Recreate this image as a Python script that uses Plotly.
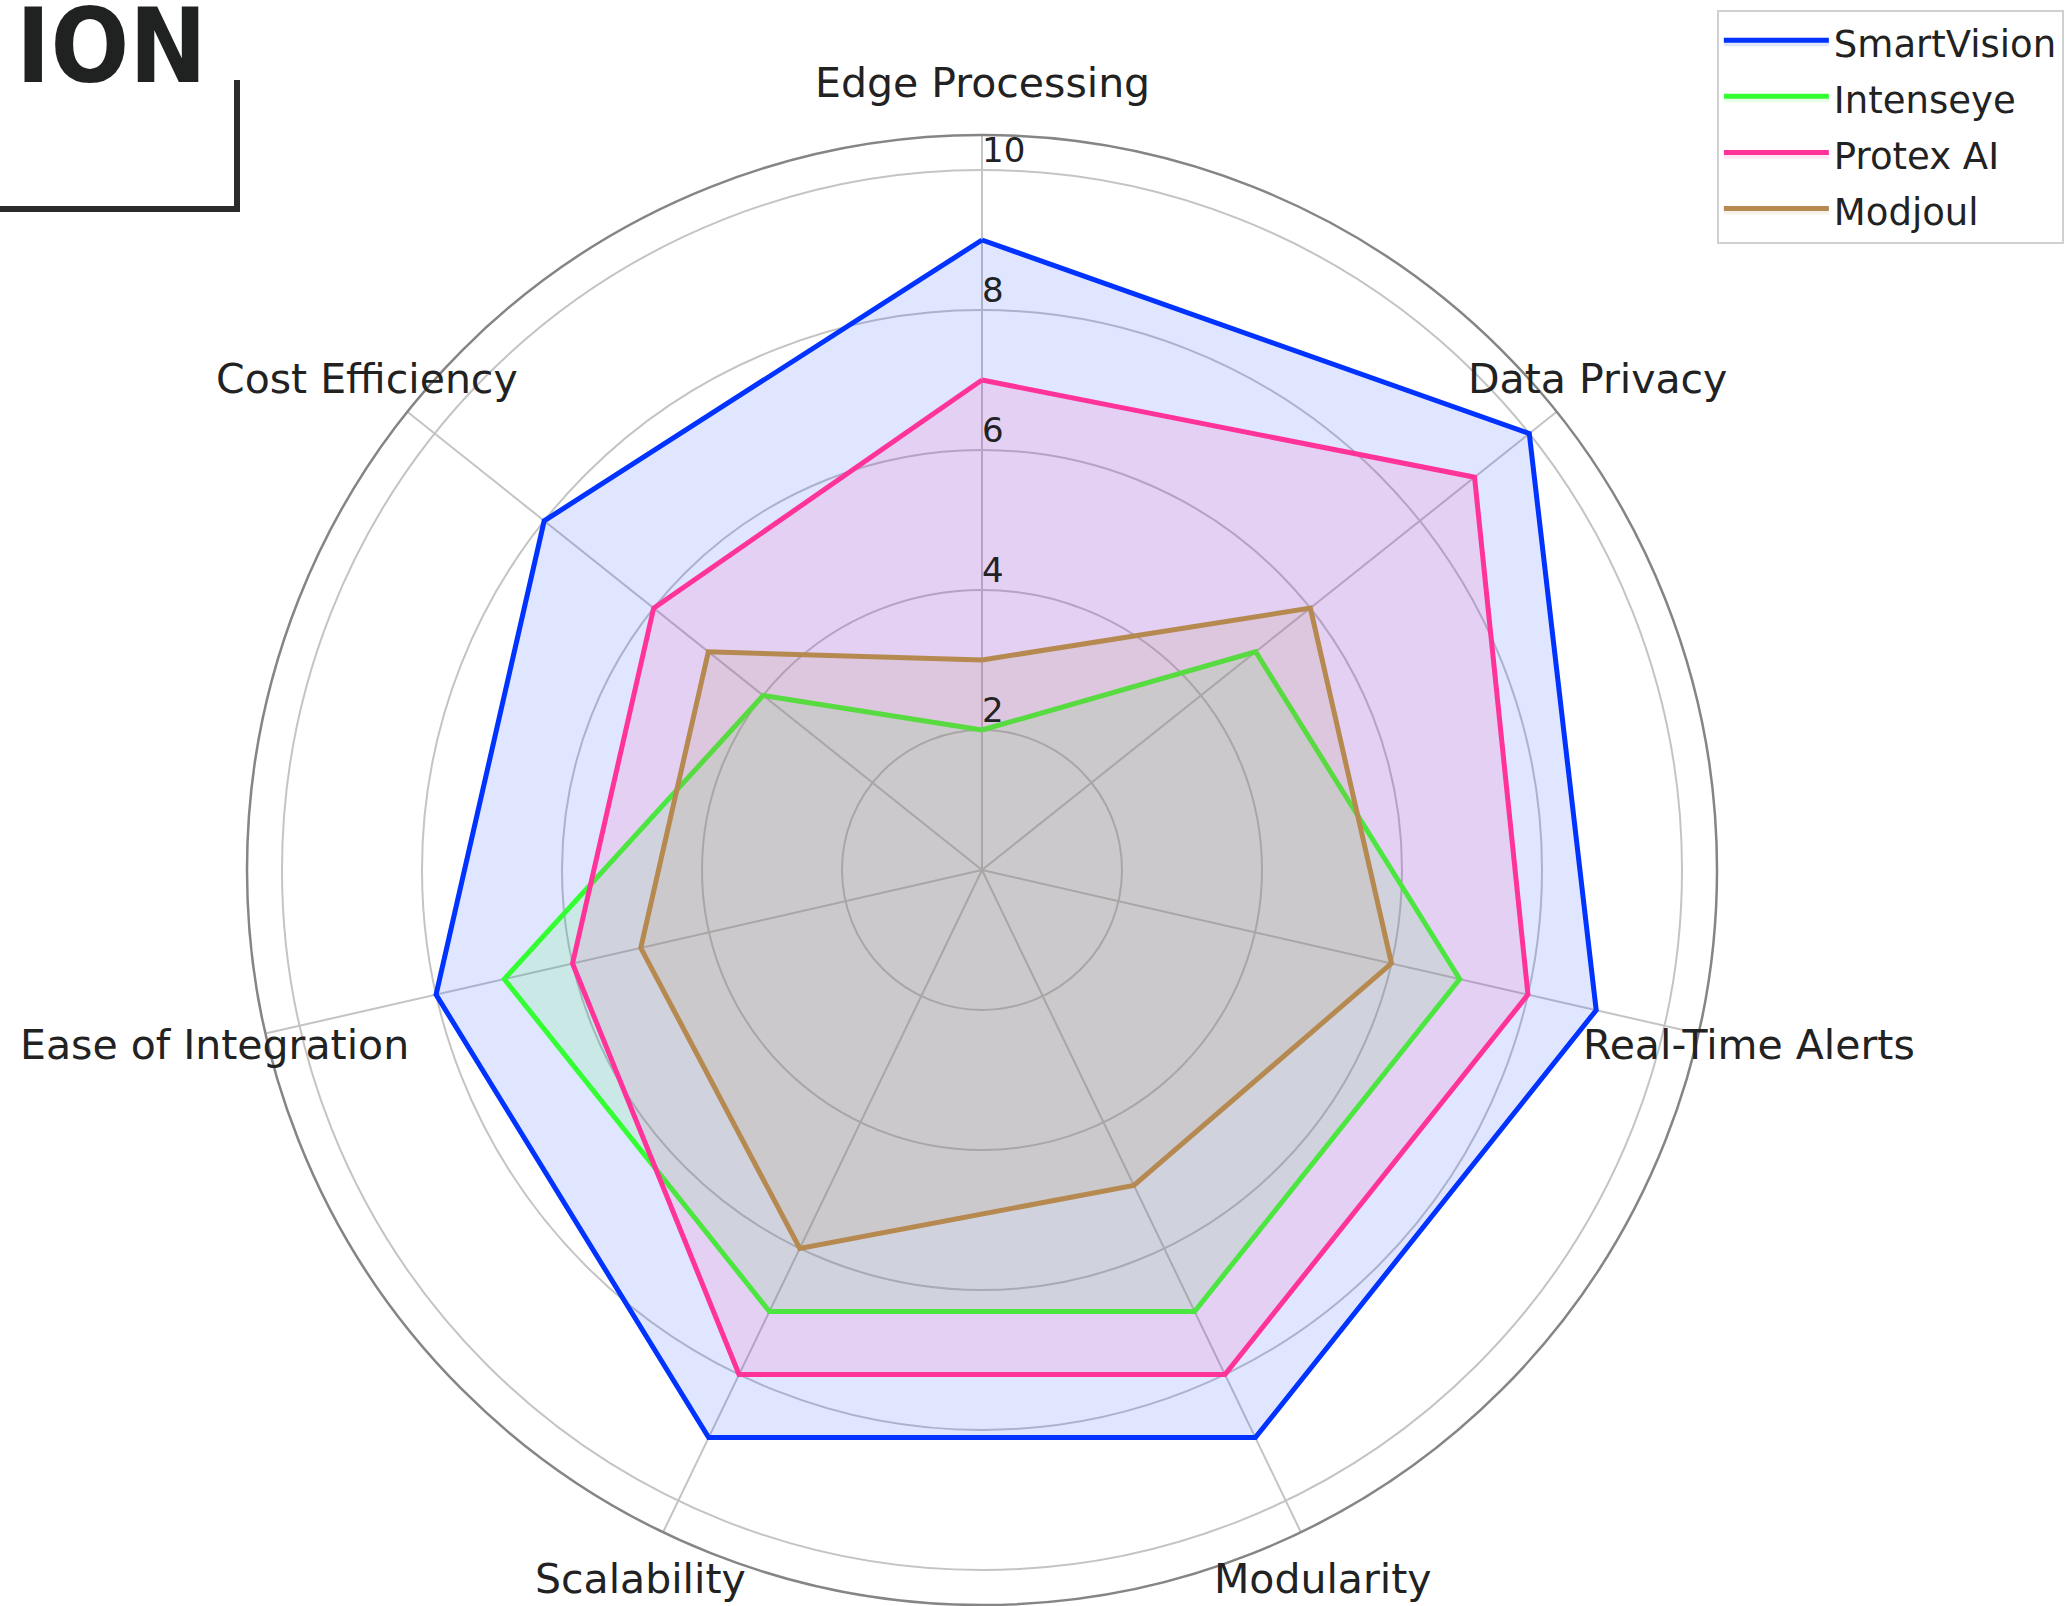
import math
import plotly.graph_objects as go

categories = ["Edge Processing", "Data Privacy", "Real-Time Alerts", "Modularity",
              "Scalability", "Ease of Integration", "Cost Efficiency"]
smartvision = [9, 10, 9, 9, 9, 8, 8]
intenseye = [2, 5, 7, 7, 7, 7, 4]
protex_ai = [7, 9, 8, 8, 8, 6, 6]
modjoul = [3, 6, 6, 5, 6, 5, 5]
series_names = ["SmartVision", "Intenseye", "Protex AI", "Modjoul"]
radial_ticks = [2, 4, 6, 8, 10]
radial_tick_labels = ["2", "4", "6", "8", "10"]

line_colors = ["#0033ff", "#33ff33", "#ff3399", "#b5894f"]
fill_colors = ["rgba(0,51,255,0.12)", "rgba(51,255,51,0.12)",
               "rgba(255,51,153,0.12)", "rgba(181,137,79,0.12)"]

W, H = 2068, 1606
CX, CY, R = 982, 870, 735  # polar centre / frame radius in pixels
R_MAX = 10.5
LABEL_PX = 787            # radius (px) at which category labels are centred
FONT = "DejaVu Sans"

fig = go.Figure()
for name, vals, lc, fc in zip(series_names, [smartvision, intenseye, protex_ai, modjoul],
                              line_colors, fill_colors):
    fig.add_trace(go.Scatterpolar(
        r=vals + vals[:1], theta=categories + categories[:1],
        mode="lines", name=name, line=dict(color=lc, width=5),
        fill="toself", fillcolor=fc, legendgroup=name, hoverinfo="skip"))

# radial tick labels
fig.add_trace(go.Scatterpolar(
    r=radial_ticks, theta=[categories[0]] * len(radial_ticks), mode="text",
    text=radial_tick_labels, textposition="top right",
    textfont=dict(family=FONT, size=34, color="#222222"),
    showlegend=False, hoverinfo="skip", cliponaxis=False))

fig.update_layout(
    width=W, height=H, paper_bgcolor="white", plot_bgcolor="white",
    margin=dict(l=0, r=0, t=0, b=0),
    font=dict(family=FONT, size=34, color="#222222"),
    polar=dict(
        domain=dict(x=[(CX - R) / W, (CX + R) / W], y=[(H - CY - R) / H, (H - CY + R) / H]),
        bgcolor="white",
        radialaxis=dict(range=[0, R_MAX], tickvals=radial_ticks, showticklabels=False,
                        ticks="", showline=False, gridcolor="#c4c4c4", gridwidth=2, angle=90),
        angularaxis=dict(direction="clockwise", rotation=90, showticklabels=False, ticks="",
                         showline=True, linecolor="#858585", linewidth=2.5,
                         gridcolor="#c4c4c4", gridwidth=2),
    ),
    legend=dict(x=0.998, y=0.994, xanchor="right", yanchor="top",
                bordercolor="#d0d0d0", borderwidth=2, bgcolor="white",
                font=dict(family=FONT, size=37, color="#222222"),
                tracegroupgap=5, itemwidth=105),
)

# category labels, centred just outside the frame (same angular layout as the axis)
n = len(categories)
for i, cat in enumerate(categories):
    ang = math.radians(90 - i * 360 / n)
    fig.add_annotation(text=cat, xref="paper", yref="paper",
                       x=(CX + LABEL_PX * math.cos(ang)) / W,
                       y=1 - (CY - LABEL_PX * math.sin(ang)) / H,
                       xanchor="center", yanchor="middle", showarrow=False,
                       font=dict(family=FONT, size=41, color="#222222"))

# decorative fragment at the top-left corner
fig.add_annotation(text="<b>ION</b>", xref="paper", yref="paper", x=14 / W, y=1 - 108 / H,
                   xanchor="left", yanchor="bottom", showarrow=False,
                   font=dict(family="DejaVu Sans Condensed", size=103, color="#1f2220"))
fig.add_shape(type="line", xref="paper", yref="paper", x0=0, x1=240 / W,
              y0=1 - 209 / H, y1=1 - 209 / H, line=dict(color="#2d2b2c", width=6))
fig.add_shape(type="line", xref="paper", yref="paper", x0=237 / W, x1=237 / W,
              y0=1 - 80 / H, y1=1 - 212 / H, line=dict(color="#2d2b2c", width=6))

fig.write_html("out.html", config={"displayModeBar": False},
               post_script="document.body.style.margin='0';")
